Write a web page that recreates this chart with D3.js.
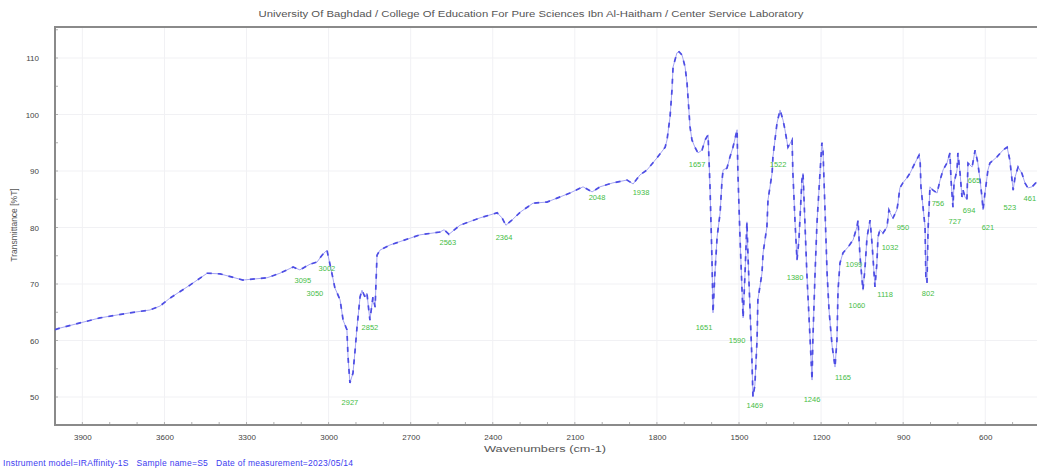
<!DOCTYPE html>
<html>
<head>
<meta charset="utf-8">
<script src="https://cdn.jsdelivr.net/npm/d3@7"></script>
<style>
  body { margin: 0; background: #fff; }
  svg { display: block; font-family: 'Liberation Sans', Arial, sans-serif; }
  text { white-space: pre; }
</style>
</head>
<body>
<svg id="chart" width="1037" height="469"></svg>
<script>
// spectrum: wavenumber (cm-1) and transmittance (%T)
const wavenumber = [
  4000, 3982, 3836, 3726, 3653, 3616, 3580, 3507, 3444, 3397, 3313, 3225, 3178, 3130, 3105,
  3094, 3068, 3042, 3024, 3006, 2988, 2977, 2958, 2947, 2933, 2929, 2922, 2911, 2904, 2896,
  2885, 2878, 2867, 2860, 2849, 2838, 2830, 2823, 2812, 2776, 2666, 2593, 2578, 2560, 2520,
  2447, 2384, 2366, 2352, 2330, 2300, 2253, 2202, 2165, 2118, 2070, 2037, 2008, 1961, 1909,
  1887, 1862, 1836, 1800, 1770, 1763, 1752, 1745, 1741, 1727, 1719, 1708, 1697, 1690, 1679,
  1672, 1661, 1650, 1635, 1624, 1613, 1606, 1599, 1595, 1588, 1580, 1569, 1562, 1558, 1544,
  1533, 1522, 1507, 1504, 1496, 1485, 1478, 1471, 1467, 1460, 1453, 1449, 1442, 1434, 1431,
  1416, 1412, 1398, 1394, 1379, 1376, 1361, 1350, 1339, 1332, 1321, 1306, 1303, 1295, 1288,
  1281, 1270, 1266, 1259, 1252, 1240, 1233, 1230, 1222, 1215, 1204, 1197, 1193, 1186, 1178,
  1171, 1160, 1149, 1142, 1138, 1131, 1120, 1102, 1083, 1069, 1065, 1058, 1047, 1040, 1032,
  1021, 1014, 1003, 996, 992, 985, 974, 959, 952, 941, 937, 923, 919, 912, 901,
  886, 875, 857, 842, 838, 835, 820, 817, 813, 809, 802, 791, 776, 765, 754,
  740, 729, 725, 718, 714, 703, 700, 692, 685, 681, 674, 667, 663, 648, 637,
  627, 619, 612, 608, 601, 590, 583, 557, 535, 520, 510, 502, 498, 491, 480,
  466, 455, 444, 429, 411
]
const transmittance = [
  61.9, 62.2, 64.0, 64.9, 65.4, 66.1, 67.5, 69.8, 71.9, 71.8, 70.7, 71.1, 71.9, 73.0, 72.5,
  72.8, 73.5, 73.9, 75.1, 76.0, 71.9, 69.3, 67.2, 63.6, 61.9, 57.1, 52.5, 54.2, 57.8, 62.4,
  67.7, 68.9, 67.7, 68.4, 63.6, 67.7, 65.9, 75.1, 76.0, 76.9, 78.7, 79.2, 79.6, 78.8, 80.4,
  81.7, 82.6, 81.7, 80.4, 81.3, 82.7, 84.3, 84.5, 85.2, 86.1, 87.2, 86.3, 87.2, 87.9, 88.4,
  87.7, 89.3, 90.2, 92.3, 94.2, 95.5, 99.6, 104.3, 108.4, 110.9, 111.1, 110.5, 108.4, 105.6, 97.8,
  95.5, 94.2, 93.2, 93.7, 95.5, 96.4, 87.2, 74.8, 64.9, 71.9, 78.3, 82.6, 88.4, 90.2, 90.5,
  92.5, 94.2, 97.3, 89.6, 77.8, 64.0, 71.9, 81.0, 74.8, 65.9, 57.1, 50.0, 52.1, 60.1, 67.2,
  71.9, 75.5, 80.1, 84.9, 89.6, 92.5, 98.5, 100.8, 99.0, 97.3, 94.2, 95.5, 89.6, 80.8, 74.2,
  77.8, 88.4, 89.6, 80.8, 71.9, 60.1, 53.0, 60.1, 71.9, 80.8, 89.6, 95.0, 93.7, 83.6, 71.9,
  65.4, 59.2, 55.3, 60.1, 68.9, 73.7, 75.5, 76.5, 77.8, 80.1, 81.3, 75.1, 68.9, 72.5, 78.3,
  81.3, 77.3, 69.5, 73.7, 78.3, 79.6, 79.0, 80.1, 83.1, 81.9, 81.7, 83.1, 84.3, 87.0, 87.9,
  88.8, 89.6, 91.4, 92.8, 91.9, 87.2, 80.1, 71.2, 70.2, 79.6, 87.2, 86.6, 86.1, 88.4, 90.2,
  91.4, 93.2, 88.4, 83.6, 87.9, 90.2, 93.2, 89.6, 85.4, 86.6, 85.4, 84.9, 91.4, 90.7, 93.7,
  91.4, 88.4, 85.4, 83.1, 86.1, 90.2, 91.4, 92.5, 93.7, 94.2, 91.9, 88.4, 86.6, 88.9, 90.7,
  89.6, 87.9, 87.0, 87.2, 88.1
]

// peak labels: text, wavenumber under which it sits, %T level of the text
const peakText = ['3095', '3002', '3050', '2927', '2852', '2563', '2364', '2048', '1938', '1657',
  '1651', '1590', '1469', '1522', '1380', '1246', '1165', '1099', '1060', '1118',
  '1032', '950', '802', '756', '727', '694', '665', '621', '523', '461']
const peakWn = [3094, 3006, 3050, 2922, 2849, 2564, 2359, 2019, 1858, 1653,
  1628, 1507, 1442, 1357, 1295, 1233, 1120, 1080, 1069, 966,
  948, 901, 809, 773, 711, 659, 641, 590, 510, 437]
const peakT = [70.7, 72.8, 68.4, 49.1, 62.4, 77.4, 78.3, 85.4, 86.3, 91.1,
  62.4, 60.1, 48.6, 91.1, 71.2, 49.5, 53.5, 73.4, 66.3, 68.1,
  76.4, 80.1, 68.4, 84.3, 81.0, 83.1, 88.4, 80.1, 83.6, 85.2]

const xTicks = [3900, 3600, 3300, 3000, 2700, 2400, 2100, 1800, 1500, 1200, 900, 600]
const yTicks = [50, 60, 70, 80, 90, 100, 110]

const title = 'University Of Baghdad / College Of Education For Pure Sciences Ibn Al-Haitham / Center Service Laboratory'
const footer = 'Instrument model=IRAffinity-1S   Sample name=S5   Date of measurement=2023/05/14'

const plot = { left: 55, right: 1037, top: 27, bottom: 425 }

const svg = d3.select('#chart')

const x = d3.scaleLinear().domain([4000, 400]).range([plot.left, plot.left + 3600 * 0.2736])
const y = d3.scaleLinear().domain([110, 50]).range([58, 397])

svg.append('defs').append('clipPath').attr('id', 'clip')
  .append('rect')
  .attr('x', plot.left).attr('y', plot.top)
  .attr('width', plot.right - plot.left).attr('height', plot.bottom - plot.top)

// faint grid
const grid = svg.append('g').attr('stroke', '#f1f1f4').attr('stroke-width', 1)
grid.selectAll('line.v').data(xTicks).enter().append('line')
  .attr('x1', d => x(d)).attr('x2', d => x(d))
  .attr('y1', plot.top).attr('y2', plot.bottom)
grid.selectAll('line.h').data(yTicks).enter().append('line')
  .attr('x1', plot.left).attr('x2', plot.right)
  .attr('y1', d => y(d)).attr('y2', d => y(d))

// axes, drawn without domain paths; the frame is drawn separately
const xAxis = svg.append('g')
  .attr('transform', `translate(0,${plot.bottom})`)
  .call(d3.axisBottom(x).tickValues(xTicks).tickSize(0).tickPadding(9).tickFormat(d3.format('d')))
xAxis.select('.domain').remove()

const yAxis = svg.append('g')
  .attr('transform', `translate(${plot.left},0)`)
  .call(d3.axisLeft(y).tickValues(yTicks).tickSize(0).tickPadding(16).tickFormat(d3.format('d')))
yAxis.select('.domain').remove()

svg.selectAll('.tick text').attr('font-size', 8).attr('fill', '#444')

// minor ticks along the frame
const minorX = d3.range(4000, 399, -100)
svg.append('g').attr('stroke', '#b0b0b0').selectAll('line').data(minorX).enter().append('line')
  .attr('x1', d => x(d)).attr('x2', d => x(d))
  .attr('y1', plot.bottom).attr('y2', plot.bottom - 3)
const minorY = d3.range(45, 116, 5)
svg.append('g').attr('stroke', '#b0b0b0').selectAll('line').data(minorY).enter().append('line')
  .attr('x1', plot.left).attr('x2', plot.left + 3)
  .attr('y1', d => y(d)).attr('y2', d => y(d))

// frame
svg.append('path')
  .attr('d', `M${plot.right},${plot.top}H${plot.left}V${plot.bottom}H${plot.right}`)
  .attr('fill', 'none').attr('stroke', '#8a8a8a').attr('stroke-width', 2)

// spectrum: thin light line with heavier dashes on top
const points = wavenumber.map((w, i) => [w, transmittance[i]])
const line = d3.line().x(d => x(d[0])).y(d => y(d[1]))
const spectrum = svg.append('g').attr('clip-path', 'url(#clip)')
spectrum.append('path').datum(points)
  .attr('d', line).attr('fill', 'none')
  .attr('stroke', '#a4a4f2').attr('stroke-width', 1)
spectrum.append('path').datum(points)
  .attr('d', line).attr('fill', 'none')
  .attr('stroke', '#4d4de4').attr('stroke-width', 1.7)
  .attr('stroke-dasharray', '5,6')

// peak labels
svg.append('g').selectAll('text').data(peakText).enter().append('text')
  .attr('x', (d, i) => x(peakWn[i]))
  .attr('y', (d, i) => y(peakT[i]))
  .attr('dy', '0.35em')
  .attr('text-anchor', 'middle')
  .attr('font-size', 7.5)
  .attr('fill', '#46bd46')
  .text(d => d)

// texts
svg.append('text')
  .attr('x', 531).attr('y', 17)
  .attr('text-anchor', 'middle').attr('font-size', 8.5).attr('fill', '#555')
  .attr('textLength', 545).attr('lengthAdjust', 'spacingAndGlyphs')
  .text(title)

svg.append('text')
  .attr('x', 545).attr('y', 452)
  .attr('text-anchor', 'middle').attr('font-size', 8.5).attr('fill', '#555')
  .attr('textLength', 122).attr('lengthAdjust', 'spacingAndGlyphs')
  .text('Wavenumbers (cm-1)')

svg.append('text')
  .attr('transform', 'translate(17,225) rotate(-90)')
  .attr('text-anchor', 'middle').attr('font-size', 8.5).attr('fill', '#555')
  .text('Transmittance [%T]')

svg.append('text')
  .attr('x', 3).attr('y', 466)
  .attr('font-size', 8.5).attr('fill', '#3b3bf0')
  .attr('textLength', 350).attr('lengthAdjust', 'spacing')
  .text(footer)
</script>
</body>
</html>
